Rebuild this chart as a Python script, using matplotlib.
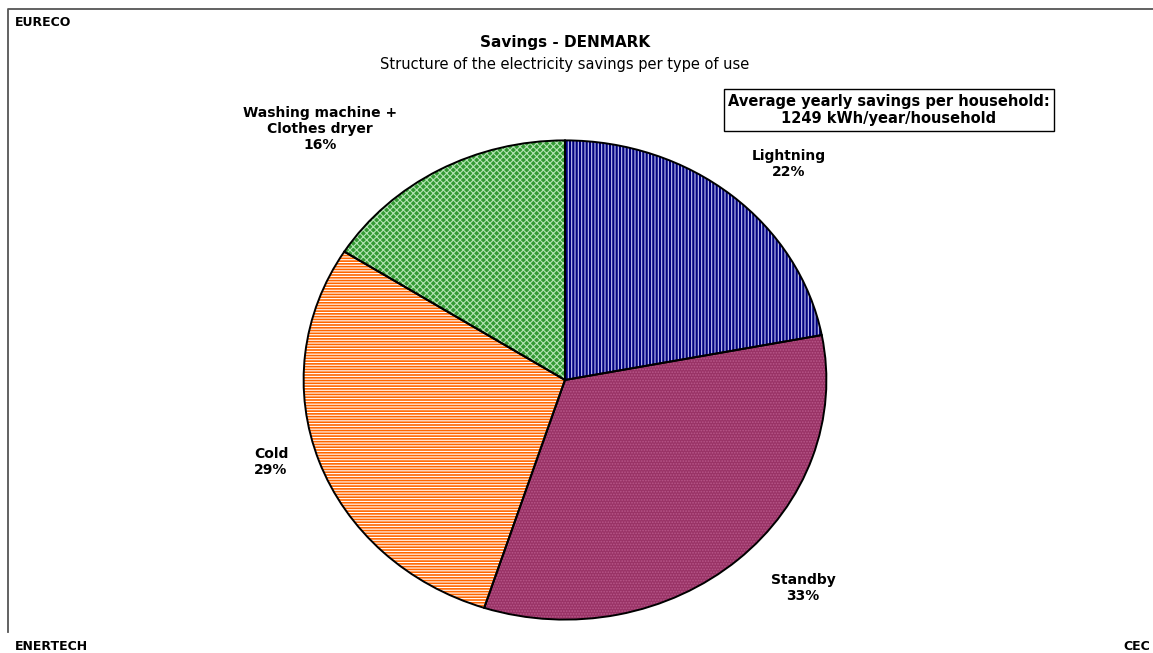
import numpy as np
import matplotlib
matplotlib.use("Agg")
import matplotlib.pyplot as plt

plt.rcParams['font.family'] = ['DejaVu Sans']
plt.rcParams['hatch.linewidth'] = 0.8

W, H = 1153, 653

uses = ['Lightning', 'Standby', 'Cold', 'Washing machine +\nClothes dryer']
shares = [22, 33, 29, 16]
fill_colors = ['#000080', '#993366', '#FF6600', '#339933']
hatch_colors = ['#c4c4f4', '#b8588a', '#ffffff', '#b4e4b4']
hatches = ['|||||', '......', '------', 'xxxxx']
label_pos = [(789, 164), (803, 588), (271, 462), (320, 129)]

title = 'Savings - DENMARK'
subtitle = 'Structure of the electricity savings per type of use'
box_text = 'Average yearly savings per household:\n1249 kWh/year/household'


def fx(x):
    return x / W


def fy(y):
    return 1 - y / H


fig = plt.figure(figsize=(W / 100, H / 100), dpi=100)

# frame of the chart area (left and top edges)
bg = fig.add_axes([0, 0, 1, 1])
bg.set_xlim(0, W)
bg.set_ylim(H, 0)
bg.axis('off')
bg.plot([8, 8, W], [632, 9, 9], color='#555555', lw=1.3)

# pie is slightly wider than tall
cx, cy, rx, ry = 565, 380, 264, 242
ax = fig.add_axes([fx(cx - rx), fy(cy + ry), 2 * rx / W, 2 * ry / H])
wedges, _ = ax.pie(shares, startangle=90, counterclock=False, radius=1,
                   wedgeprops=dict(linewidth=0))
for w, fc, hc, h in zip(wedges, fill_colors, hatch_colors, hatches):
    w.set_facecolor(fc)
    w.set_edgecolor(hc)
    w.set_hatch(h)
ax.pie(shares, startangle=90, counterclock=False, radius=1,
       wedgeprops=dict(fill=False, edgecolor='black', linewidth=1.4))
ax.set_aspect('auto')
ax.set_xlim(-1.01, 1.01)
ax.set_ylim(-1.01, 1.01)
ax.axis('off')

for name, pct, (x, y) in zip(uses, shares, label_pos):
    fig.text(fx(x), fy(y), f'{name}\n{pct}%', ha='center', va='center',
             fontsize=10, fontweight='bold', linespacing=1.2)

fig.text(fx(565), fy(43), title, ha='center', va='center',
         fontsize=11, fontweight='bold')
fig.text(fx(565), fy(64), subtitle, ha='center', va='center', fontsize=10.5)

fig.text(fx(889), fy(110), box_text, ha='center', va='center',
         fontsize=10.5, fontweight='bold', linespacing=1.2,
         bbox=dict(boxstyle='square,pad=0.3', facecolor='white',
                   edgecolor='black', linewidth=1))

fig.text(fx(15), fy(22), 'EURECO', ha='left', va='center',
         fontsize=9, fontweight='bold')
fig.text(fx(15), fy(646), 'ENERTECH', ha='left', va='center',
         fontsize=9, fontweight='bold')
fig.text(fx(1150), fy(646), 'CEC', ha='right', va='center',
         fontsize=9, fontweight='bold')

fig.savefig('out.png', dpi=100)
